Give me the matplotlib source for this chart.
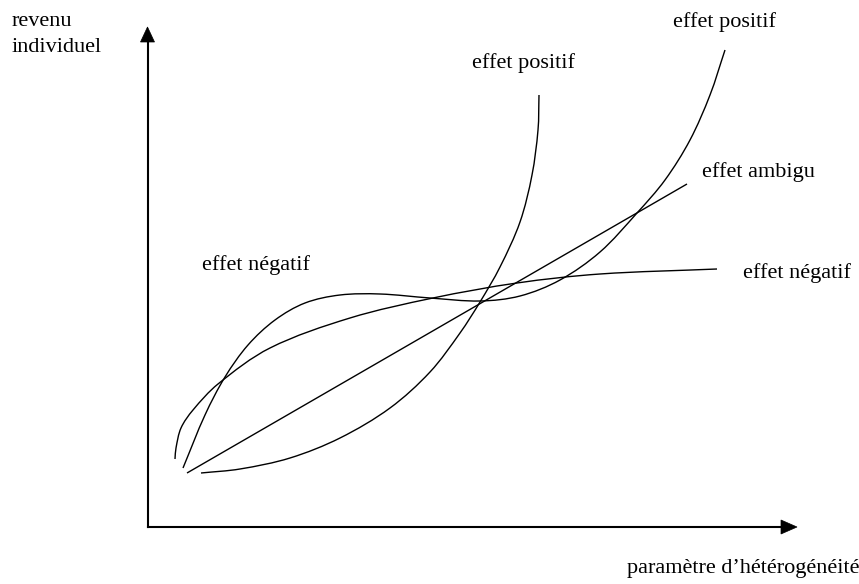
import matplotlib
matplotlib.use("Agg")
import matplotlib.pyplot as plt
from matplotlib.path import Path
from matplotlib.patches import PathPatch, Polygon

# ---- data (pixel-space schematic coordinates) ----
# concave curve ending at right "effet négatif"
neg_x = [175, 176, 181, 193, 218, 270, 350, 433, 517, 600, 717]
neg_y = [459, 448, 428, 410, 384, 348, 318, 298, 283, 274, 269]

# S-shaped curve ending at right "effet positif"
pos2_x = [183, 205, 225, 248, 275, 305, 340, 380, 430, 480, 520, 560, 600, 637, 665, 690, 710, 725]
pos2_y = [468, 415, 377, 345, 320, 303, 295, 294, 298, 301, 296, 280, 252, 213, 180, 140, 95, 50]

# convex curve ending at left "effet positif"
pos1_x = [201, 240, 290, 340, 390, 430, 460, 480, 500, 520, 532, 538, 539]
pos1_y = [473, 469, 458, 438, 408, 372, 333, 302, 267, 222, 175, 130, 95]

# straight line "effet ambigu"
amb_x = [187, 687]
amb_y = [473, 184]

labels = ["effet positif", "effet positif", "effet ambigu", "effet négatif", "effet négatif"]
label_x = [472, 673, 702, 743, 202]
label_y = [68, 27, 177, 278, 270]

W, H = 859, 584
fig = plt.figure(figsize=(W / 100, H / 100), dpi=100)
ax = fig.add_axes([0, 0, 1, 1])
ax.set_xlim(0, W)
ax.set_ylim(H, 0)
ax.axis("off")

FONT = ["Liberation Serif", "DejaVu Serif"]
FS = 16


def smooth_path(xs, ys):
    """Chord-length Catmull-Rom through the read points, drawn as cubic Beziers."""
    pts = list(zip(xs, ys))
    n = len(pts)
    d = [((pts[i + 1][0] - pts[i][0]) ** 2 + (pts[i + 1][1] - pts[i][1]) ** 2) ** 0.5
         for i in range(n - 1)]
    tang = []
    for i in range(n):
        if i == 0:
            tx = (pts[1][0] - pts[0][0]) / d[0]
            ty = (pts[1][1] - pts[0][1]) / d[0]
        elif i == n - 1:
            tx = (pts[-1][0] - pts[-2][0]) / d[-1]
            ty = (pts[-1][1] - pts[-2][1]) / d[-1]
        else:
            tt = d[i - 1] + d[i]
            tx = (pts[i + 1][0] - pts[i - 1][0]) / tt
            ty = (pts[i + 1][1] - pts[i - 1][1]) / tt
        tang.append((tx, ty))
    verts = [pts[0]]
    codes = [Path.MOVETO]
    for i in range(n - 1):
        p1, p2 = pts[i], pts[i + 1]
        h = d[i] / 3.0
        c1 = (p1[0] + tang[i][0] * h, p1[1] + tang[i][1] * h)
        c2 = (p2[0] - tang[i + 1][0] * h, p2[1] - tang[i + 1][1] * h)
        verts += [c1, c2, p2]
        codes += [Path.CURVE4] * 3
    return Path(verts, codes)


for xs, ys in [(neg_x, neg_y), (pos2_x, pos2_y), (pos1_x, pos1_y)]:
    ax.add_patch(PathPatch(smooth_path(xs, ys), facecolor="none",
                           edgecolor="black", lw=1.0, capstyle="butt"))
ax.plot(amb_x, amb_y, color="black", lw=1.0, solid_capstyle="butt")

# axes with arrowheads
ox, oy = 147.5, 527
ax.plot([ox, ox], [oy, 41], color="black", lw=1.5, solid_capstyle="projecting")
ax.plot([ox, 783], [oy, oy], color="black", lw=1.5, solid_capstyle="projecting")
ax.add_patch(Polygon([(ox, 27), (ox - 7, 42), (ox + 7, 42)], closed=True,
                     facecolor="black", edgecolor="black", lw=0.5))
ax.add_patch(Polygon([(797, oy), (781, oy - 7), (781, oy + 7)], closed=True,
                     facecolor="black", edgecolor="black", lw=0.5))

for t, x, y in zip(labels, label_x, label_y):
    ax.text(x, y, t, family=FONT, fontsize=FS, ha="left", va="baseline")

ax.text(12, 26, "revenu", family=FONT, fontsize=FS, ha="left", va="baseline")
ax.text(12, 52, "individuel", family=FONT, fontsize=FS, ha="left", va="baseline")
ax.text(627, 573, "paramètre d\u2019hétérogénéité", family=FONT, fontsize=FS,
        ha="left", va="baseline")

fig.savefig("out.png", dpi=100)
